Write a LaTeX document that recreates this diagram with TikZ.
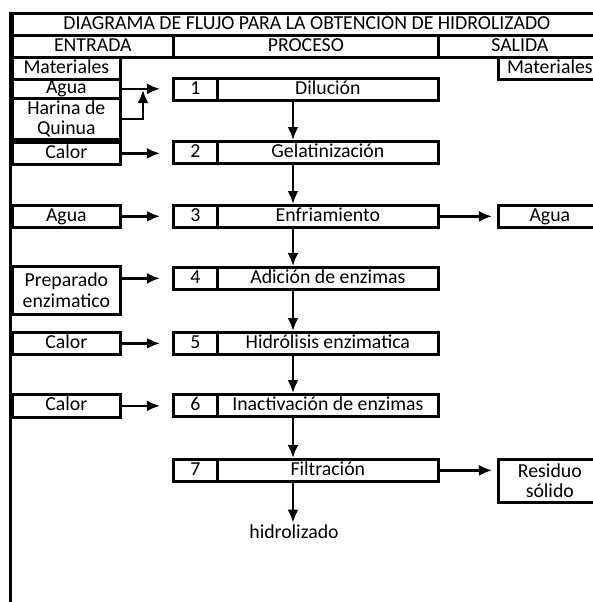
\documentclass[tikz,border=0pt]{standalone}
\usepackage{fontspec}
\setmainfont{Carlito}
\usetikzlibrary{arrows.meta,positioning}

\tikzset{
  celda/.style={draw, line width=1.35pt, inner sep=0pt, anchor=north west, align=center,
    font=\fontsize{9.9}{10.2}\selectfont},
  cell/.style={celda, text height=7pt, text depth=2.2pt},
  flow/.style={line width=1.2pt, -{Latex[length=6.5pt,width=5.5pt]}},
}

\begin{document}
\begin{tikzpicture}[x=0.5pt,y=-0.5pt]
\useasboundingbox (0,0) rectangle (593,602);
% encabezado
\node (titulo) [cell, minimum width=294.5pt, minimum height=11pt] at (11,12) {DIAGRAMA DE FLUJO PARA LA OBTENCIÓN DE HIDROLIZADO};
\node (entrada) [cell, minimum width=80.5pt, minimum height=11pt] at (11,34) {ENTRADA};
\node (proceso) [cell, minimum width=132.5pt, minimum height=11pt] at (172,34) {PROCESO};
\node (salida) [cell, minimum width=81.5pt, minimum height=11pt] at (437,34) {SALIDA};
\draw[line width=1.5pt] (titulo.north west) -- (11,606);

% entradas
\node (mat) [cell, minimum width=54pt, minimum height=11pt] at (11,56) {Materiales};
\node (agua1) [cell, minimum width=54pt, minimum height=9.5pt] at (11,78) {Agua};
\node (harina) [celda, minimum width=54pt, minimum height=20.5pt] at (11,97) {Harina de\\Quinua};
\node (calor2) [cell, minimum width=54pt, minimum height=11pt] at (11,141) {Calor};
\node (agua3) [cell, minimum width=54pt, minimum height=11pt] at (11,204) {Agua};
\node (prep) [celda, minimum width=54pt, minimum height=24pt] at (11,265) {Preparado\\enzimatico};
\node (calor5) [cell, minimum width=54pt, minimum height=11pt] at (11,331) {Calor};
\node (calor6) [cell, minimum width=54pt, minimum height=11.5pt] at (11,393) {Calor};

% etapas del proceso
\foreach \n/\y/\etapa in {1/77/Dilución, 2/140/Gelatinización, 3/204/Enfriamiento,
    4/266/Adición de enzimas, 5/331/Hidrólisis enzimatica,
    6/393/Inactivación de enzimas, 7/458/Filtración} {
  \node (n\n) [cell, minimum width=22pt, minimum height=11pt] at (172,\y) {\n};
  \node (p\n) [cell, minimum width=110.5pt, minimum height=11pt] at (216,\y) {\etapa};
}

% salidas
\node (matS) [cell, minimum width=51.5pt, minimum height=11pt] at (497,56) {Materiales};
\node (aguaS) [cell, minimum width=51.5pt, minimum height=11pt] at (497,204) {Agua};
\node (residuo) [celda, minimum width=51.5pt, minimum height=21.5pt] at (497,458) {Residuo\\sólido};
\node (hidro) [font=\fontsize{9.9}{10.2}\selectfont, inner sep=1pt] at (294,532) {hidrolizado};

\coordinate (eje) at (293,0);
\coordinate (union) at (143,90);

% flechas
\draw[flow, shorten >=6pt] (agua1.east) -- (agua1.east -| n1.west);
\draw[flow] (harina.east) -| (union);
\draw[flow, shorten >=6pt] (calor2.east) -- (calor2.east -| n2.west);
\draw[flow, shorten >=6pt] (agua3.east) -- (agua3.east -| n3.west);
\draw[flow, shorten >=6pt] (prep.east |- n4.west) -- (n4.west);
\draw[flow, shorten >=6pt] (calor5.east) -- (calor5.east -| n5.west);
\draw[flow, shorten >=6pt] (calor6.east) -- (calor6.east -| n6.west);
\foreach \a/\b in {1/2, 2/3, 3/4, 4/5, 5/6, 6/7}
  \draw[flow] (eje |- p\a.south) -- (eje |- p\b.north);
\draw[flow] (eje |- p7.south) -- (eje |- hidro.north);
\draw[flow, shorten >=2.5pt] (p3.east) -- (aguaS.west);
\draw[flow, shorten >=2.5pt] (p7.east) -- (p7.east -| residuo.west);
\end{tikzpicture}
\end{document}
